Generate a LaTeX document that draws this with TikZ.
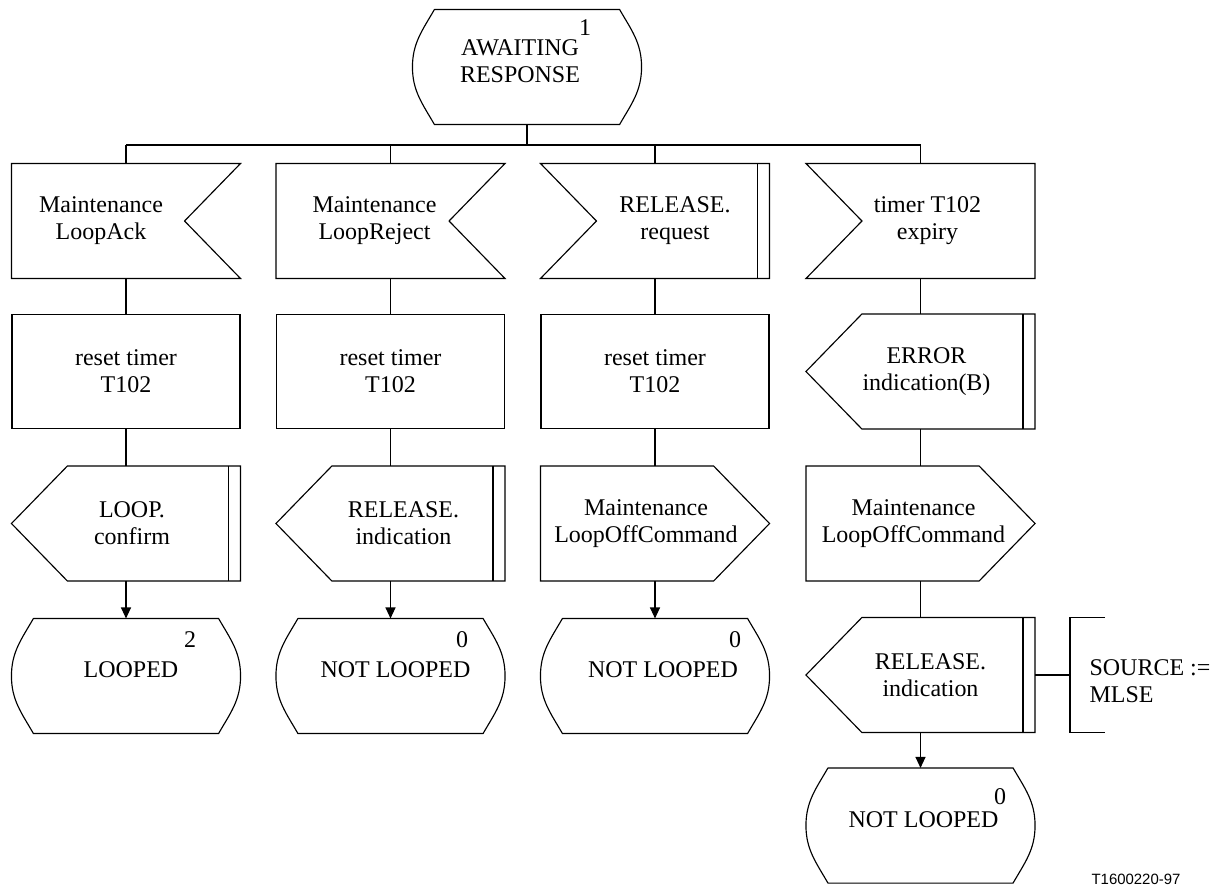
\documentclass[tikz,border=0pt]{standalone}
\usepackage{fontspec}
\setmainfont{Liberation Serif}
\newfontfamily\idfont{Liberation Sans}
\usetikzlibrary{arrows.meta}

\newcommand{\sdlfont}{\fontsize{13.65}{15.4}\selectfont}
% outlines of the SDL symbols, drawn round a named node
\newcommand{\sdlstate}[1]{\draw ([xshift=0.44cm]#1.north west) -- ([xshift=-0.44cm]#1.north east)
  to[out=-60,in=90] (#1.east) to[out=-90,in=60] ([xshift=-0.44cm]#1.south east)
  -- ([xshift=0.44cm]#1.south west) to[out=120,in=-90] (#1.west)
  to[out=90,in=-120] ([xshift=0.44cm]#1.north west);}
\newcommand{\sdlinR}[1]{\draw (#1.north west) -- (#1.north east) -- ([xshift=-1.12cm]#1.east)
  -- (#1.south east) -- (#1.south west) -- cycle;}
\newcommand{\sdlinL}[1]{\draw (#1.north west) -- (#1.north east) -- (#1.south east)
  -- (#1.south west) -- ([xshift=1.12cm]#1.west) -- cycle;}
\newcommand{\sdloutL}[1]{\draw ([xshift=1.12cm]#1.north west) -- (#1.north east) -- (#1.south east)
  -- ([xshift=1.12cm]#1.south west) -- (#1.west) -- cycle;}
\newcommand{\sdloutR}[1]{\draw (#1.north west) -- ([xshift=-1.12cm]#1.north east) -- (#1.east)
  -- ([xshift=-1.12cm]#1.south east) -- (#1.south west) -- cycle;}
\newcommand{\sdldbl}[1]{\draw ([xshift=-0.24cm]#1.north east) -- ([xshift=-0.24cm]#1.south east);}

\tikzset{
  sdl/.style={rectangle, inner sep=0pt, minimum width=4.56cm, minimum height=2.28cm,
    align=center, font=\sdlfont},
  task/.style={sdl, draw},
  num/.style={inner sep=0pt, font=\sdlfont},
  every label/.append style={font=\sdlfont, align=center, inner sep=0pt},
  arr/.style={-{Triangle[length=2.2mm,width=2mm]}},
}

\begin{document}
\begin{tikzpicture}[x=0.02cm, y=-0.02cm, line width=0.65pt]
\useasboundingbox (0,0) rectangle (1217,886);

% start state
\node[sdl, label={[xshift=-0.14cm, yshift=0.12cm]center:{AWAITING\\RESPONSE}}] (s0) at (527,67) {};
\node[num] (n0) at (585,28) {1};
\coordinate (bus) at (0,145);

% inputs
\node[sdl, label={[xshift=-0.5cm]center:{Maintenance\\LoopAck}}] (i1) at (126,221) {};
\node[sdl, label={[xshift=-0.32cm]center:{Maintenance\\LoopReject}}] (i2) at (390.5,221) {};
\node[sdl, label={[xshift=0.4cm]center:{RELEASE.\\request}}] (i3) at (655,221) {};
\node[sdl, label={[xshift=0.14cm]center:{timer T102\\expiry}}] (i4) at (920.5,221) {};

% tasks
\node[task] (t1) at (126,371.5) {reset timer\\T102};
\node[task] (t2) at (390.5,371.5) {reset timer\\T102};
\node[task] (t3) at (655,371.5) {reset timer\\T102};
\node[sdl, label={[xshift=0.12cm]center:{ERROR\\indication(B)}}] (e4) at (920.5,371.5) {};

% outputs
\node[sdl, label={[xshift=0.12cm]center:{LOOP.\\confirm}}] (o1) at (126,523.5) {};
\node[sdl, label={[xshift=0.26cm]center:{RELEASE.\\indication}}] (o2) at (390.5,523.5) {};
\node[sdl, label={[xshift=-0.18cm]center:{Maintenance\\LoopOffCommand}}] (o3) at (655,523.5) {};
\node[sdl, label={[xshift=-0.14cm]center:{Maintenance\\LoopOffCommand}}] (o4) at (920.5,523.5) {};
\node[sdl, label={[xshift=0.2cm]center:{RELEASE.\\indication}}] (r4) at (920.5,675) {};
\node[sdl, minimum width=0.68cm, anchor=west,
  label={[anchor=west, align=left, xshift=0.38cm, yshift=-0.12cm]west:{SOURCE :=\\MLSE}}] (ext) at (1070,675) {};

% next states
\node[sdl, label={[xshift=0.1cm, yshift=0.12cm]center:LOOPED}] (s1) at (126,676) {};
\node[sdl, label={[xshift=0.1cm, yshift=0.12cm]center:NOT LOOPED}] (s2) at (390.5,676) {};
\node[sdl, label={[xshift=0.16cm, yshift=0.12cm]center:NOT LOOPED}] (s3) at (655,676) {};
\node[sdl, label={[xshift=0.06cm, yshift=0.12cm]center:NOT LOOPED}] (s4) at (920.5,825.5) {};
\node[num] (n1) at (190,640) {2};
\node[num] (n2) at (462,640) {0};
\node[num] (n3) at (735,640) {0};
\node[num] (n4) at (1000,797) {0};

% outlines
\sdlstate{s0}
\foreach \n in {s1,s2,s3,s4} {\sdlstate{\n}}
\sdlinR{i1} \sdlinR{i2}
\sdlinL{i3} \sdldbl{i3}
\sdlinL{i4}
\sdloutL{e4} \sdldbl{e4}
\sdloutL{o1} \sdldbl{o1}
\sdloutL{o2} \sdldbl{o2}
\sdloutR{o3} \sdloutR{o4}
\sdloutL{r4} \sdldbl{r4}
\draw (ext.north east) -- (ext.north west) -- (ext.south west) -- (ext.south east);

% connectors
\draw (s0.south) -- (s0.south |- bus);
\draw (i1.north |- bus) -- (i4.north |- bus);
\foreach \n in {i1,i2,i3,i4} {\draw (\n.north) -- (\n.north |- bus);}
\foreach \a/\b in {i1/t1,t1/o1,i2/t2,t2/o2,i3/t3,t3/o3,i4/e4,e4/o4,o4/r4} {\draw (\a.south) -- (\b.north);}
\foreach \a/\b in {o1/s1,o2/s2,o3/s3,r4/s4} {\draw[arr] (\a.south) -- (\b.north);}
\draw (r4.east) -- (ext.west);

\node[font=\idfont\fontsize{8.5}{10}\selectfont, inner sep=0pt] (docid) at (1136,879) {T1600220-97};
\end{tikzpicture}
\end{document}
